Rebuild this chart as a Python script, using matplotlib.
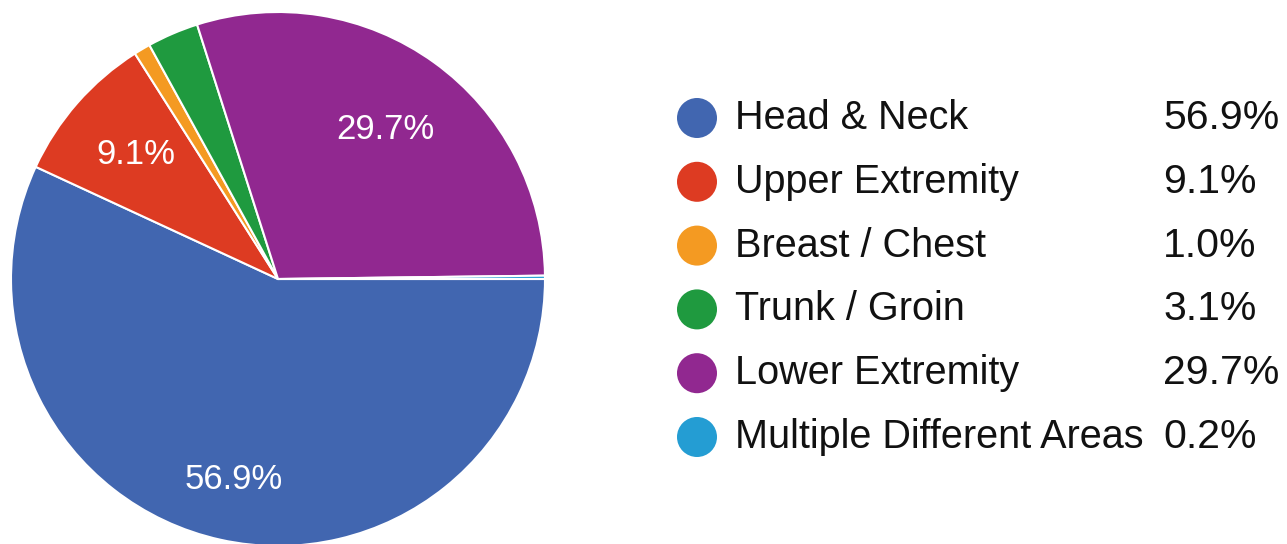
import numpy as np
import matplotlib
matplotlib.use("Agg")
import matplotlib.pyplot as plt

# data
labels = ["Head & Neck", "Upper Extremity", "Breast / Chest", "Trunk / Groin",
          "Lower Extremity", "Multiple Different Areas"]
shares = [56.9, 9.1, 1.0, 3.1, 29.7, 0.2]
pct_text = ["56.9%", "9.1%", "1.0%", "3.1%", "29.7%", "0.2%"]
colors = ["#4166b0", "#dd3b22", "#f49a22", "#1f9a3f", "#912890", "#249dd3"]

W, H = 1287, 544
fig = plt.figure(figsize=(W / 100, H / 100), dpi=100)
ax = fig.add_axes([0, 0, 1, 1])
plt.rcParams["font.family"] = ["Liberation Sans", "DejaVu Sans"]

cx, cy, R = 278, 265, 267
wedges, _ = ax.pie(shares, colors=colors, startangle=0, counterclock=False,
                   center=(cx, cy), radius=R, frame=True,
                   wedgeprops=dict(edgecolor="white", linewidth=1.5))
ax.set_xlim(0, W); ax.set_ylim(0, H)
ax.set_aspect("equal"); ax.axis("off")

# in-slice labels only for the big slices (google-charts style)
label_dist = [0.77, 0.71, None, None, 0.69, None]
for w, txt, d in zip(wedges, pct_text, label_dist):
    if d is None:
        continue
    mid = np.deg2rad(0.5 * (w.theta1 + w.theta2))
    ax.text(cx + d * R * np.cos(mid), cy + d * R * np.sin(mid), txt,
            color="white", fontsize=25, ha="center", va="center")

# legend column
y0, dy = H - 118, 63.8
for i, (lab, c, p) in enumerate(zip(labels, colors, pct_text)):
    y = y0 - i * dy
    ax.scatter([697], [y], s=830, color=c, edgecolors="none")
    ax.text(735, y, lab, fontsize=28.5, ha="left", va="center", color="#111111")
    ax.text(1163, y, p, fontsize=29.5, ha="left", va="center", color="#111111")

fig.savefig("out.png", dpi=100)
